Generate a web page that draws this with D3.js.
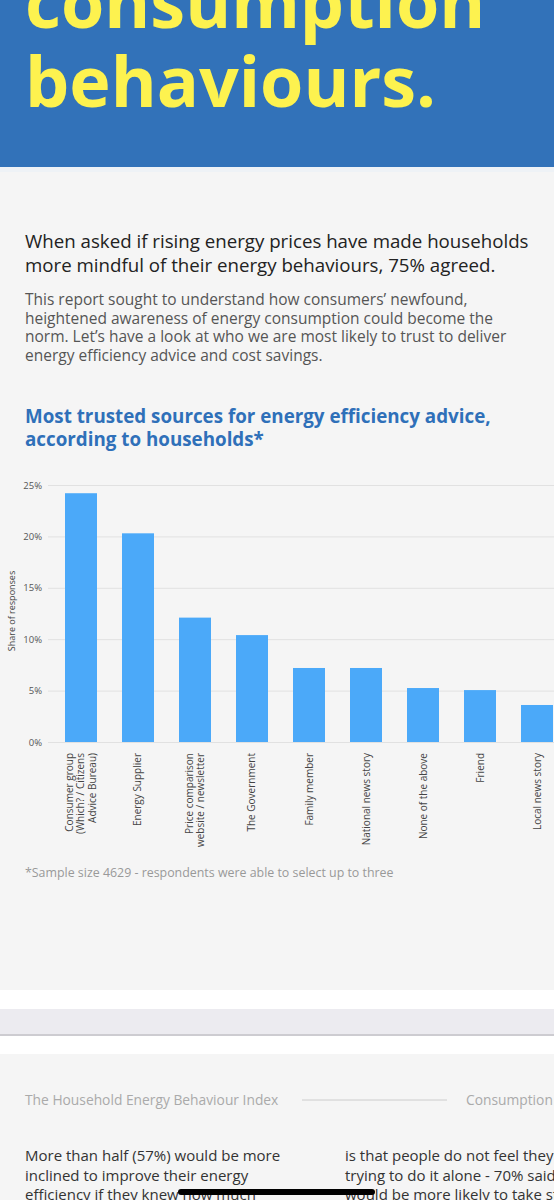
<!DOCTYPE html>
<html lang="en">
<head>
    <meta charset="UTF-8">
    <title>Most trusted sources</title>
    <script src="https://d3js.org/d3.v7.min.js"></script>
    <style>
        body { margin: 0; background: #f5f5f5; }
        svg { display: block; font-family: "Open Sans", sans-serif; }
    </style>
</head>
<body>
<script>
    const width  = 554;
    const height = 1200;

    // chart data
    const categories = [
        "Consumer group\n(Which? / Citizens\nAdvice Bureau)",
        "Energy Supplier",
        "Price comparison\nwebsite / newsletter",
        "The Government",
        "Family member",
        "National news story",
        "None of the above",
        "Friend",
        "Local news story"
    ];
    const shares = [24.2, 20.3, 12.1, 10.4, 7.2, 7.2, 5.25, 5.05, 3.6];
    const yTicks = [0, 5, 10, 15, 20, 25];

    const svg = d3.select("body").append("svg")
        .attr("width", width).attr("height", height);

    // several lines in one text element
    function block(x0, y0, lh, lines) {
        const t = svg.append("text");
        lines.forEach((l, i) => {
            t.append("tspan").attr("x", x0).attr("y", y0 + i * lh).text(l);
        });
        return t;
    }

    // page backgrounds
    svg.append("rect").attr("width", width).attr("height", 167).attr("fill", "#3272b9");
    svg.append("rect").attr("y", 167).attr("width", width).attr("height", 5).attr("fill", "#eef2f6");
    svg.append("rect").attr("y", 172).attr("width", width).attr("height", 818).attr("fill", "#f5f5f5");
    svg.append("rect").attr("y", 990).attr("width", width).attr("height", 64).attr("fill", "#ffffff");
    svg.append("rect").attr("y", 1009).attr("width", width).attr("height", 27).attr("fill", "#ecebf0");
    svg.append("rect").attr("y", 1034).attr("width", width).attr("height", 2).attr("fill", "#cdccd1");
    svg.append("rect").attr("y", 1054).attr("width", width).attr("height", 146).attr("fill", "#f5f5f5");

    // header
    block(25, 28, 79, ["consumption", "behaviours."])
        .attr("fill", "#fdf24f")
        .style("font-size", "70px").style("font-weight", 700);

    // intro text
    block(25, 248, 23.5, [
        "When asked if rising energy prices have made households",
        "more mindful of their energy behaviours, 75% agreed."
    ]).attr("fill", "#222").style("font-size", "18.7px");

    block(25, 305, 18.5, [
        "This report sought to understand how consumers\u2019 newfound,",
        "heightened awareness of energy consumption could become the",
        "norm. Let\u2019s have a look at who we are most likely to trust to deliver",
        "energy efficiency advice and cost savings."
    ]).attr("fill", "#555").style("font-size", "15.5px");

    // chart title
    block(25, 423, 23, [
        "Most trusted sources for energy efficiency advice,",
        "according to households*"
    ]).attr("fill", "#2f70b9").style("font-size", "18.8px").style("font-weight", 700);

    // scales
    const x = d3.scaleBand()
        .domain(categories)
        .range([36.5, 581.5])
        .paddingInner(0.4386)
        .paddingOuter(0.5);

    const y = d3.scaleLinear()
        .domain([0, 25])
        .range([742, 485]);

    const yAxis = d3.axisLeft(y)
        .tickValues(yTicks)
        .tickSize(-540)
        .tickPadding(6)
        .tickFormat(d => d + "%");

    const gy = svg.append("g")
        .attr("transform", "translate(" + [48, 0] + ")")
        .call(yAxis);
    gy.select(".domain").remove();
    gy.selectAll(".tick line").attr("stroke", "#e1e1e1");
    gy.selectAll(".tick text")
        .attr("fill", "#555")
        .style("font-size", "9.5px")
        .style("font-family", "'Open Sans', sans-serif");

    svg.append("text")
        .attr("transform", "translate(" + [15, 611] + ") rotate(-90)")
        .attr("text-anchor", "middle")
        .attr("fill", "#444")
        .style("font-size", "9px")
        .text("Share of responses");

    // bars
    svg.append("g").selectAll("rect")
        .data(shares)
        .join("rect")
        .attr("x", (d, i) => x(categories[i]))
        .attr("y", d => y(d))
        .attr("width", x.bandwidth())
        .attr("height", d => y(0) - y(d))
        .attr("fill", "#4ba9f9");

    // rotated category labels
    const lineH = 11.5;
    const labels = svg.append("g").attr("fill", "#444").style("font-size", "10px");
    categories.forEach(c => {
        const lines = c.split("\n");
        const cx = x(c) + x.bandwidth() / 2;
        const t = labels.append("text")
            .attr("transform", "translate(" + [cx, 753] + ") rotate(-90)")
            .attr("text-anchor", "end");
        lines.forEach((l, j) => {
            t.append("tspan")
                .attr("x", 0)
                .attr("y", (j - (lines.length - 1) / 2) * lineH + 3.5)
                .text(l);
        });
    });

    // footnote
    svg.append("text")
        .attr("x", 25).attr("y", 877)
        .attr("fill", "#999")
        .style("font-size", "12.4px")
        .text("*Sample size 4629 - respondents were able to select up to three");

    // next page
    svg.append("text")
        .attr("x", 25).attr("y", 1105)
        .attr("fill", "#aaa")
        .style("font-size", "13.8px")
        .text("The Household Energy Behaviour Index");
    svg.append("line")
        .attr("x1", 302).attr("x2", 447).attr("y1", 1100).attr("y2", 1100)
        .attr("stroke", "#ccc");
    svg.append("text")
        .attr("x", 466).attr("y", 1105)
        .attr("fill", "#aaa")
        .style("font-size", "13.8px")
        .text("Consumption");

    block(25, 1161, 19.6, [
        "More than half (57%) would be more",
        "inclined to improve their energy",
        "efficiency if they knew how much"
    ]).attr("fill", "#333").style("font-size", "15px");
    block(345, 1161, 19.6, [
        "is that people do not feel they are",
        "trying to do it alone - 70% said they",
        "would be more likely to take steps"
    ]).attr("fill", "#333").style("font-size", "15px");

    // phone home indicator
    svg.append("rect")
        .attr("x", 178).attr("y", 1189).attr("width", 197).attr("height", 6)
        .attr("rx", 3).attr("fill", "#000");
</script>
</body>
</html>
